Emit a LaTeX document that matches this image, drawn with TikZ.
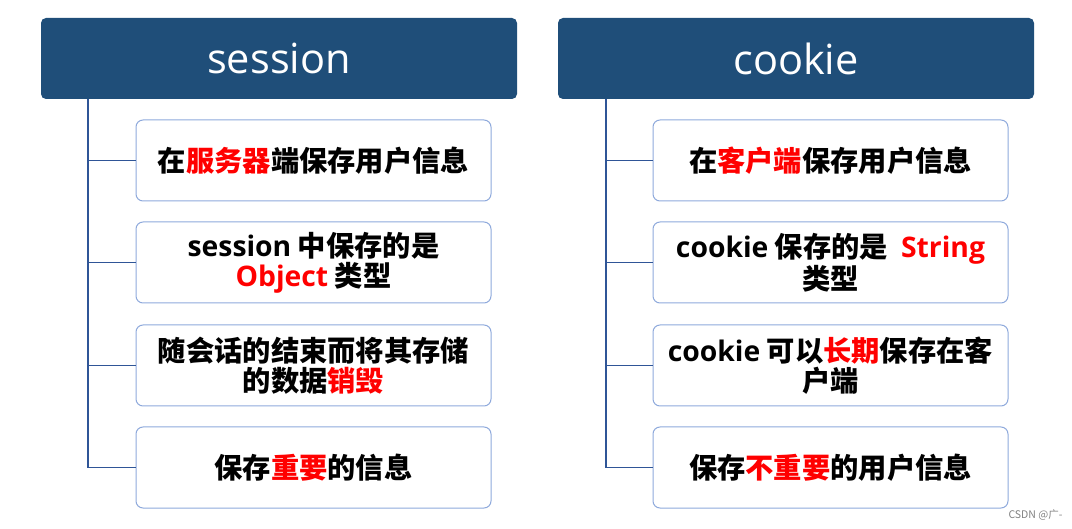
\documentclass[tikz,border=0pt]{standalone}
\usepackage{fontspec}
\setmainfont{Noto Sans CJK SC}
\newfontfamily\latfont{Open Sans}
\usetikzlibrary{positioning}
\definecolor{headblue}{RGB}{31,78,121}
\definecolor{linkblue}{RGB}{47,85,151}
\definecolor{boxblue}{RGB}{143,170,220}
\newcommand{\hl}[1]{\textcolor{red}{#1}}
\newcommand{\en}[1]{{\latfont #1}}

\begin{document}
\begin{tikzpicture}[x=1pt, y=-1pt,
  head/.style={fill=headblue, rounded corners=5pt, minimum width=476pt, minimum height=81pt,
    text=white, font=\latfont\fontsize{41.5}{44}\selectfont},
  item/.style={draw=boxblue, line width=1pt, rounded corners=7pt, fill=white,
    minimum width=355pt, minimum height=81pt, align=center, inner sep=0pt,
    font=\bfseries\fontsize{28.3}{30}\selectfont},
  link/.style={draw=linkblue, line width=1.6pt}]
\useasboundingbox (0,0) rectangle (1072,529);

% session column
\node[head] (hs) at (279,58.5) {session};
\node[item] (s1) at (313.5,160.5) {在\hl{服务器}端保存用户信息};
\node[item] (s2) at (313.5,262.5) {\en{session} 中保存的是\\\hl{\en{Object}} 类型};
\node[item] (s3) at (313.5,365.5) {随会话的结束而将其存储\\的数据\hl{销毁}};
\node[item] (s4) at (313.5,467.5) {保存\hl{重要}的信息};
\coordinate (sroot) at (88,99);

% cookie column
\node[head] (hc) at (796,58.5) {cookie};
\node[item] (c1) at (830.5,160.5) {在\hl{客户端}保存用户信息};
\node[item] (c2) at (830.5,262.5) {\en{cookie} 保存的是~~\hl{\en{String}}\\类型};
\node[item] (c3) at (830.5,365.5) {\en{cookie} 可以\hl{长期}保存在客\\户端};
\node[item] (c4) at (830.5,467.5) {保存\hl{不重要}的用户信息};
\coordinate (croot) at (606,99);

\draw[link] (sroot) |- (s4.west);
\draw[link] (croot) |- (c4.west);
\foreach \i in {1,2,3} {
  \draw[link] (sroot |- s\i.west) -- (s\i.west);
  \draw[link] (croot |- c\i.west) -- (c\i.west);
}

\node[text=gray, font=\fontsize{10.5}{11}\selectfont, anchor=east] (mark) at (1066,515) {CSDN @广-};
\end{tikzpicture}
\end{document}
